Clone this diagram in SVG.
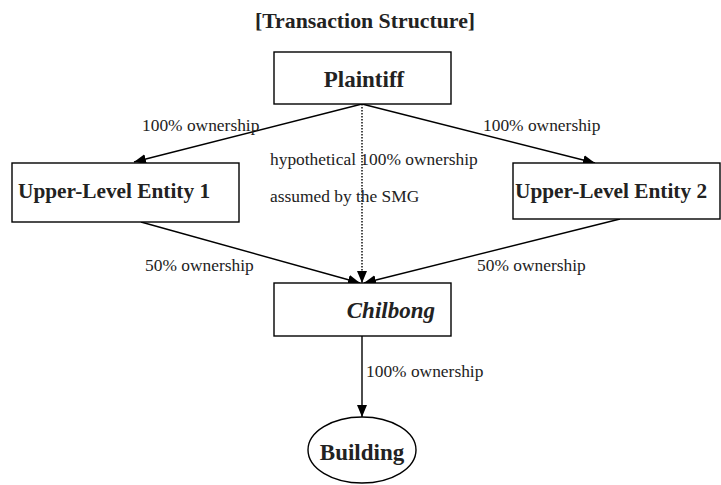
<svg xmlns="http://www.w3.org/2000/svg" width="721" height="485" viewBox="0 0 721 485">
<style>
.box{fill:#fff;stroke:#000;stroke-width:1.4}
.nt{font-family:"Liberation Serif",serif;font-weight:bold;font-size:23px;fill:#222}
.lb{font-family:"Liberation Serif",serif;font-size:17.4px;fill:#222}
.cn{stroke:#000;stroke-width:1.4;fill:none}
</style>
<defs>
<marker id="ah" markerWidth="12" markerHeight="10" refX="12" refY="5" orient="auto" markerUnits="userSpaceOnUse">
<path d="M0,0 L12,5 L0,10 z" fill="#000"/>
</marker>
</defs>
<text x="365" y="28" text-anchor="middle" class="nt" style="font-size:21.8px">[Transaction Structure]</text>
<g id="connectors">
<line class="cn" x1="362" y1="104" x2="134" y2="162" marker-end="url(#ah)"/>
<line class="cn" x1="362" y1="104" x2="595" y2="163" marker-end="url(#ah)"/>
<line class="cn" x1="362" y1="104" x2="362" y2="283" stroke-dasharray="1.5,1.5" marker-end="url(#ah)"/>
<line class="cn" x1="141" y1="222" x2="360" y2="283" marker-end="url(#ah)"/>
<line class="cn" x1="620" y1="219" x2="364" y2="283" marker-end="url(#ah)"/>
<line class="cn" x1="362" y1="336" x2="362" y2="417" marker-end="url(#ah)"/>
<text x="142" y="131" class="lb">100% ownership</text>
<text x="483" y="131" class="lb">100% ownership</text>
<text x="270" y="165" class="lb">hypothetical 100% ownership</text>
<text x="270" y="202" class="lb">assumed by the SMG</text>
<text x="145" y="271" class="lb">50% ownership</text>
<text x="477" y="271" class="lb">50% ownership</text>
<text x="366" y="377" class="lb">100% ownership</text>
</g>
<g id="plaintiff">
<rect class="box" x="274" y="52" width="177" height="52"/>
<text x="364" y="87" text-anchor="middle" class="nt">Plaintiff</text>
</g>
<g id="entity1">
<rect class="box" x="12" y="163" width="227" height="59"/>
<text x="18" y="198" class="nt" style="font-size:21.3px">Upper-Level Entity 1</text>
</g>
<g id="entity2">
<rect class="box" x="513" y="163" width="207" height="56"/>
<text x="515" y="198" class="nt" style="font-size:21.3px">Upper-Level Entity 2</text>
</g>
<g id="chilbong">
<rect class="box" x="274" y="283" width="177" height="53"/>
<text x="435" y="318" text-anchor="end" class="nt" style="font-style:italic">Chilbong</text>
</g>
<g id="building">
<ellipse class="box" cx="362" cy="450" rx="54" ry="33"/>
<text x="362" y="460" text-anchor="middle" class="nt">Building</text>
</g>
</svg>
